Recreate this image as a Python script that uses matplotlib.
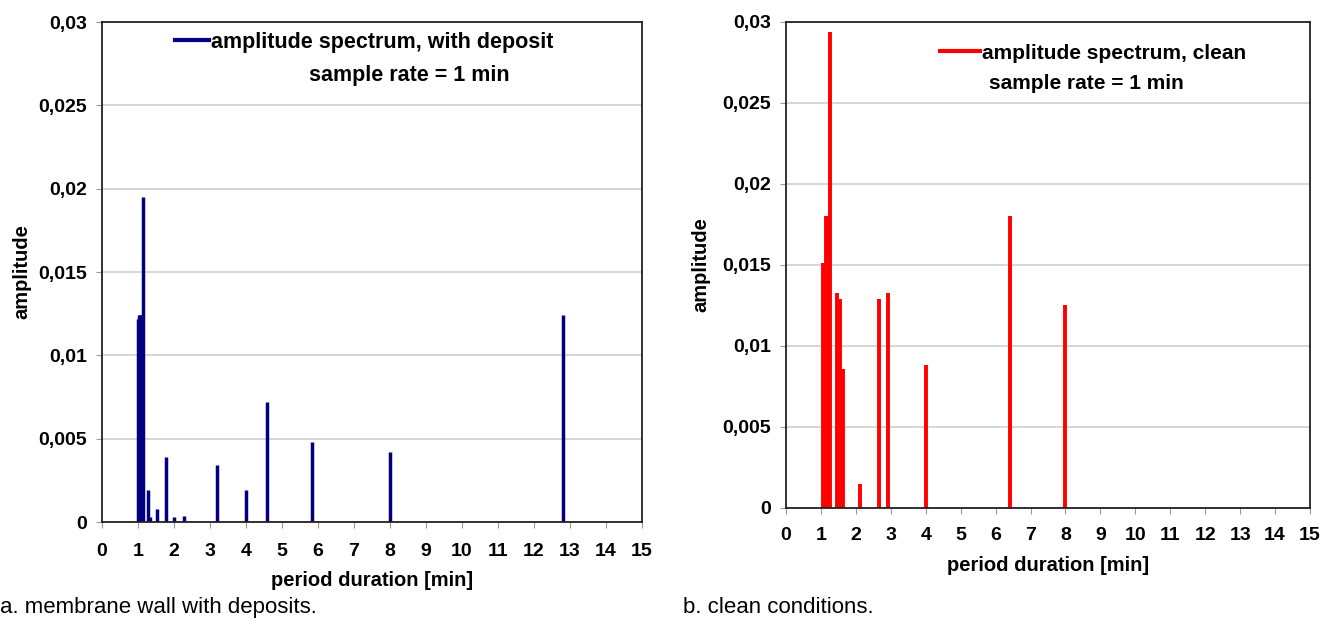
import matplotlib
matplotlib.use("Agg")
import matplotlib.pyplot as plt
from matplotlib.ticker import FuncFormatter

plt.rcParams["font.family"] = ["Liberation Sans", "DejaVu Sans"]

# period durations [min] and amplitudes
deposit_period = [1.0, 1.03, 1.06, 1.09, 1.13, 1.27, 1.33, 1.52, 1.78,
                  2.0, 2.29, 3.2, 4.0, 4.57, 5.82, 8.0, 12.8]
deposit_amp = [0.0122, 0.0124, 0.0124, 0.0124, 0.0195, 0.0019, 0.0003,
               0.0008, 0.0039, 0.0003, 0.00035, 0.0034, 0.0019, 0.0072,
               0.0048, 0.0042, 0.0124]

clean_period = [1.06, 1.14, 1.19, 1.26, 1.46, 1.54, 1.62, 2.13, 2.67,
                2.91, 4.0, 6.4, 8.0]
clean_amp = [0.0151, 0.018, 0.018, 0.0294, 0.0133, 0.0129, 0.0086,
             0.0015, 0.0129, 0.0133, 0.0088, 0.018, 0.0125]

x_ticks = list(range(0, 16))
y_ticks = [0, 0.005, 0.01, 0.015, 0.02, 0.025, 0.03]

NAVY = "#000080"
RED = "#ff0000"


def comma_fmt(v, pos):
    if v == 0:
        return "0"
    return f"{v:g}".replace(".", ",")


def style_axes(ax, xpad, ylabelpad):
    ax.set_xlim(0, 15)
    ax.set_ylim(0, 0.03)
    ax.set_xticks(x_ticks)
    ax.set_yticks(y_ticks)
    ax.yaxis.set_major_formatter(FuncFormatter(comma_fmt))
    ax.grid(axis="y", color="#d0d0d0", linewidth=1.2)
    ax.set_axisbelow(True)
    for s in ax.spines.values():
        s.set_color("#222222")
        s.set_linewidth(1.3)
    ax.tick_params(direction="out", length=4, color="#999999", labelsize=14)
    ax.tick_params(axis="x", pad=xpad)
    ax.tick_params(axis="y", pad=7)
    for lab in ax.get_xticklabels() + ax.get_yticklabels():
        lab.set_fontweight("bold")
    ax.set_xlabel("period duration [min]", fontsize=14.5, fontweight="bold",
                  labelpad=8)
    ax.set_ylabel("amplitude", fontsize=14.5, fontweight="bold",
                  labelpad=ylabelpad)


fig = plt.figure(figsize=(13.21, 6.26), dpi=100)
ax1 = fig.add_axes([0.0772, 0.1661, 0.4088, 0.7987])
ax2 = fig.add_axes([0.595, 0.1885, 0.3967, 0.7764])

ax1.vlines(deposit_period, 0, deposit_amp, color=NAVY, linewidth=2.5,
           capstyle="butt")
ax1.plot([], [], color=NAVY, linewidth=3, label="amplitude spectrum, with deposit")
style_axes(ax1, 11, 5)
ax1.legend(loc="center left", bbox_to_anchor=(0.135, 0.96), frameon=False,
           handlelength=1.6, handletextpad=0.1, borderpad=0, borderaxespad=0,
           prop={"size": 15.5, "weight": "bold"})
ax1.text(0.57, 0.894, "sample rate = 1 min", transform=ax1.transAxes,
         ha="center", va="center", fontsize=15.5, fontweight="bold")

ax2.vlines(clean_period, 0, clean_amp, color=RED, linewidth=2.8,
           capstyle="butt")
ax2.plot([], [], color=RED, linewidth=3, label="amplitude spectrum, clean")
style_axes(ax2, 10, 8)
ax2.legend(loc="center left", bbox_to_anchor=(0.294, 0.936), frameon=False,
           handlelength=1.9, handletextpad=0.1, borderpad=0, borderaxespad=0,
           prop={"size": 15, "weight": "bold"})
ax2.text(0.573, 0.874, "sample rate = 1 min", transform=ax2.transAxes,
         ha="center", va="center", fontsize=15, fontweight="bold")

fig.text(0.0, 0.021, "a. membrane wall with deposits.", fontsize=16,
         ha="left", va="baseline")
fig.text(0.517, 0.021, "b. clean conditions.", fontsize=16,
         ha="left", va="baseline")

fig.savefig("out.png", dpi=100)
